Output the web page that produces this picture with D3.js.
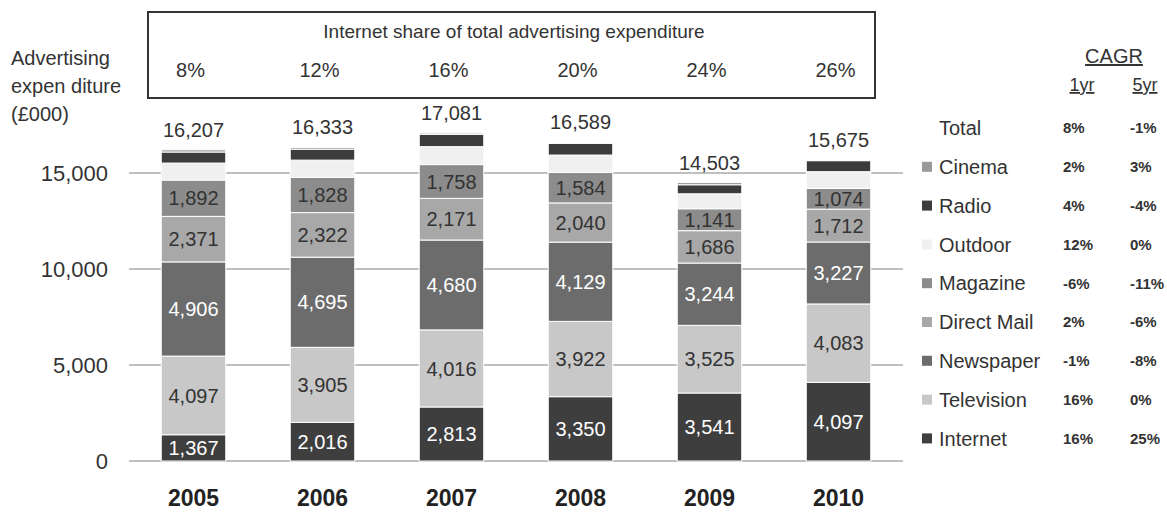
<!DOCTYPE html>
<html>
<head>
<meta charset="utf-8">
<script src="https://cdn.jsdelivr.net/npm/d3@7"></script>
<style>
  body { margin: 0; background: #fff; }
  text { font-family: "Liberation Sans", Arial, sans-serif; fill: #333; }
</style>
</head>
<body>
<div id="chart"></div>
<script>
// data
const years = ['2005', '2006', '2007', '2008', '2009', '2010'];
const internetShare = ['8%', '12%', '16%', '20%', '24%', '26%'];
const totals = [16207, 16333, 17081, 16589, 14503, 15675];

const internet = [1367, 2016, 2813, 3350, 3541, 4097];
const television = [4097, 3905, 4016, 3922, 3525, 4083];
const newspaper = [4906, 4695, 4680, 4129, 3244, 3227];
const directMail = [2371, 2322, 2171, 2040, 1686, 1712];
const magazine = [1892, 1828, 1758, 1584, 1141, 1074];
const outdoor = [885, 905, 935, 910, 780, 875];
const radio = [575, 570, 640, 610, 470, 575];
const cinema = [114, 92, 68, 44, 116, 32];

const yTicks = [0, 5000, 10000, 15000];

// legend rows, top to bottom, with CAGR 1yr / 5yr
const legendNames = ['Total', 'Cinema', 'Radio', 'Outdoor', 'Magazine', 'Direct Mail', 'Newspaper', 'Television', 'Internet'];
const cagr1yr = ['8%', '2%', '4%', '12%', '-6%', '2%', '-1%', '16%', '16%'];
const cagr5yr = ['-1%', '3%', '-4%', '0%', '-11%', '-6%', '-8%', '0%', '25%'];

// stack order bottom to top
const seriesNames = ['Internet', 'Television', 'Newspaper', 'Direct Mail', 'Magazine', 'Outdoor', 'Radio', 'Cinema'];
const seriesValues = [internet, television, newspaper, directMail, magazine, outdoor, radio, cinema];

const colors = {
  'Internet': '#3e3e3e',
  'Television': '#c8c8c8',
  'Newspaper': '#6c6c6c',
  'Direct Mail': '#a8a8a8',
  'Magazine': '#8c8c8c',
  'Outdoor': '#f0f0f0',
  'Radio': '#3c3c3c',
  'Cinema': '#9a9a9a'
};
const labelColors = { 'Internet': '#fff', 'Newspaper': '#fff' };
const labelled = ['Internet', 'Television', 'Newspaper', 'Direct Mail', 'Magazine'];

const width = 1167, height = 514;
const fmt = d3.format(',');

const svg = d3.select('#chart').append('svg')
  .attr('width', width)
  .attr('height', height);

const x = d3.scaleBand().domain(years).range([129, 903])
  .paddingInner(0.5).paddingOuter(0.25);
const y = d3.scaleLinear().domain([0, 15000]).range([461, 173]);

// table for stacking
const table = years.map(function(yr, i) {
  let row = { year: yr };
  seriesNames.forEach(function(s, j) { row[s] = seriesValues[j][i]; });
  return row;
});
const stacked = d3.stack().keys(seriesNames)(table);

// gridlines
svg.append('g').selectAll('line')
  .data(yTicks)
  .enter().append('line')
  .attr('x1', 129).attr('x2', 903)
  .attr('y1', function(d) { return y(d); })
  .attr('y2', function(d) { return y(d); })
  .attr('stroke', '#aaa')
  .attr('stroke-width', 1.5);

// y tick labels
svg.append('g').selectAll('text')
  .data(yTicks)
  .enter().append('text')
  .attr('x', 108)
  .attr('y', function(d) { return y(d); })
  .attr('dy', '0.36em')
  .attr('text-anchor', 'end')
  .style('font-size', '22px')
  .text(function(d) { return fmt(d); });

// bars
const layers = svg.append('g').selectAll('g')
  .data(stacked)
  .enter().append('g')
  .attr('fill', function(d) { return colors[d.key]; });

layers.selectAll('rect')
  .data(function(d) { return d; })
  .enter().append('rect')
  .attr('x', function(d) { return x(d.data.year); })
  .attr('width', x.bandwidth())
  .attr('y', function(d) { return y(d[1]); })
  .attr('height', function(d) { return y(d[0]) - y(d[1]); })
  .attr('stroke', '#fff')
  .attr('stroke-width', 1);

// segment labels
stacked.filter(function(s) { return labelled.includes(s.key); }).forEach(function(s) {
  svg.append('g').selectAll('text')
    .data(s)
    .enter().append('text')
    .attr('x', function(d) { return x(d.data.year) + x.bandwidth() / 2; })
    .attr('y', function(d) { return (y(d[0]) + y(d[1])) / 2; })
    .attr('dy', '0.36em')
    .attr('text-anchor', 'middle')
    .style('font-size', '20px')
    .style('fill', labelColors[s.key] || '#333')
    .text(function(d) { return fmt(d[1] - d[0]); });
});

// totals above bars
svg.append('g').selectAll('text')
  .data(totals)
  .enter().append('text')
  .attr('x', function(d, i) { return x(years[i]) + x.bandwidth() / 2; })
  .attr('y', function(d) { return y(d) - 13; })
  .attr('text-anchor', 'middle')
  .style('font-size', '20px')
  .text(function(d) { return fmt(d); });

// year labels
svg.append('g').selectAll('text')
  .data(years)
  .enter().append('text')
  .attr('x', function(d) { return x(d) + x.bandwidth() / 2; })
  .attr('y', 506)
  .attr('text-anchor', 'middle')
  .style('font-size', '23px')
  .style('font-weight', 'bold')
  .style('fill', '#222')
  .text(function(d) { return d; });

// internet share box
svg.append('rect')
  .attr('x', 148).attr('y', 12)
  .attr('width', 727).attr('height', 86)
  .attr('fill', 'none')
  .attr('stroke', '#333')
  .attr('stroke-width', 2);
svg.append('text')
  .attr('x', 514).attr('y', 38)
  .attr('text-anchor', 'middle')
  .style('font-size', '19px')
  .text('Internet share of total advertising expenditure');
svg.append('g').selectAll('text')
  .data(internetShare)
  .enter().append('text')
  .attr('x', function(d, i) { return x(years[i]) + x.bandwidth() / 2 - 3; })
  .attr('y', 77)
  .attr('text-anchor', 'middle')
  .style('font-size', '20px')
  .text(function(d) { return d; });

// y axis title
const ytitle = svg.append('text').attr('x', 11).style('font-size', '20px');
['Advertising', 'expen diture', '(£000)'].forEach(function(t, i) {
  ytitle.append('tspan').attr('x', 11).attr('y', 65 + i * 28).text(t);
});

// legend
const rowY = function(i) { return 128 + i * 38.8; };
const legend = svg.append('g');
legend.selectAll('rect')
  .data(legendNames.slice(1))
  .enter().append('rect')
  .attr('x', 922)
  .attr('y', function(d, i) { return rowY(i + 1) - 5; })
  .attr('width', 10).attr('height', 10)
  .attr('fill', function(d) { return colors[d]; });
legend.selectAll('text.name')
  .data(legendNames)
  .enter().append('text')
  .attr('class', 'name')
  .attr('x', 939)
  .attr('y', function(d, i) { return rowY(i); })
  .attr('dy', '0.36em')
  .style('font-size', '20px')
  .text(function(d) { return d; });
legend.selectAll('text.c1')
  .data(cagr1yr)
  .enter().append('text')
  .attr('class', 'c1')
  .attr('x', 1063)
  .attr('y', function(d, i) { return rowY(i); })
  .attr('dy', '0.36em')
  .style('font-size', '15px')
  .style('font-weight', 'bold')
  .text(function(d) { return d; });
legend.selectAll('text.c5')
  .data(cagr5yr)
  .enter().append('text')
  .attr('class', 'c5')
  .attr('x', 1130)
  .attr('y', function(d, i) { return rowY(i); })
  .attr('dy', '0.36em')
  .style('font-size', '15px')
  .style('font-weight', 'bold')
  .text(function(d) { return d; });

// CAGR header
svg.append('text')
  .attr('x', 1114).attr('y', 63)
  .attr('text-anchor', 'middle')
  .style('font-size', '20px')
  .style('text-decoration', 'underline')
  .text('CAGR');
svg.append('text')
  .attr('x', 1082).attr('y', 91)
  .attr('text-anchor', 'middle')
  .style('font-size', '18px')
  .style('text-decoration', 'underline')
  .text('1yr');
svg.append('text')
  .attr('x', 1145).attr('y', 91)
  .attr('text-anchor', 'middle')
  .style('font-size', '18px')
  .style('text-decoration', 'underline')
  .text('5yr');
</script>
</body>
</html>
